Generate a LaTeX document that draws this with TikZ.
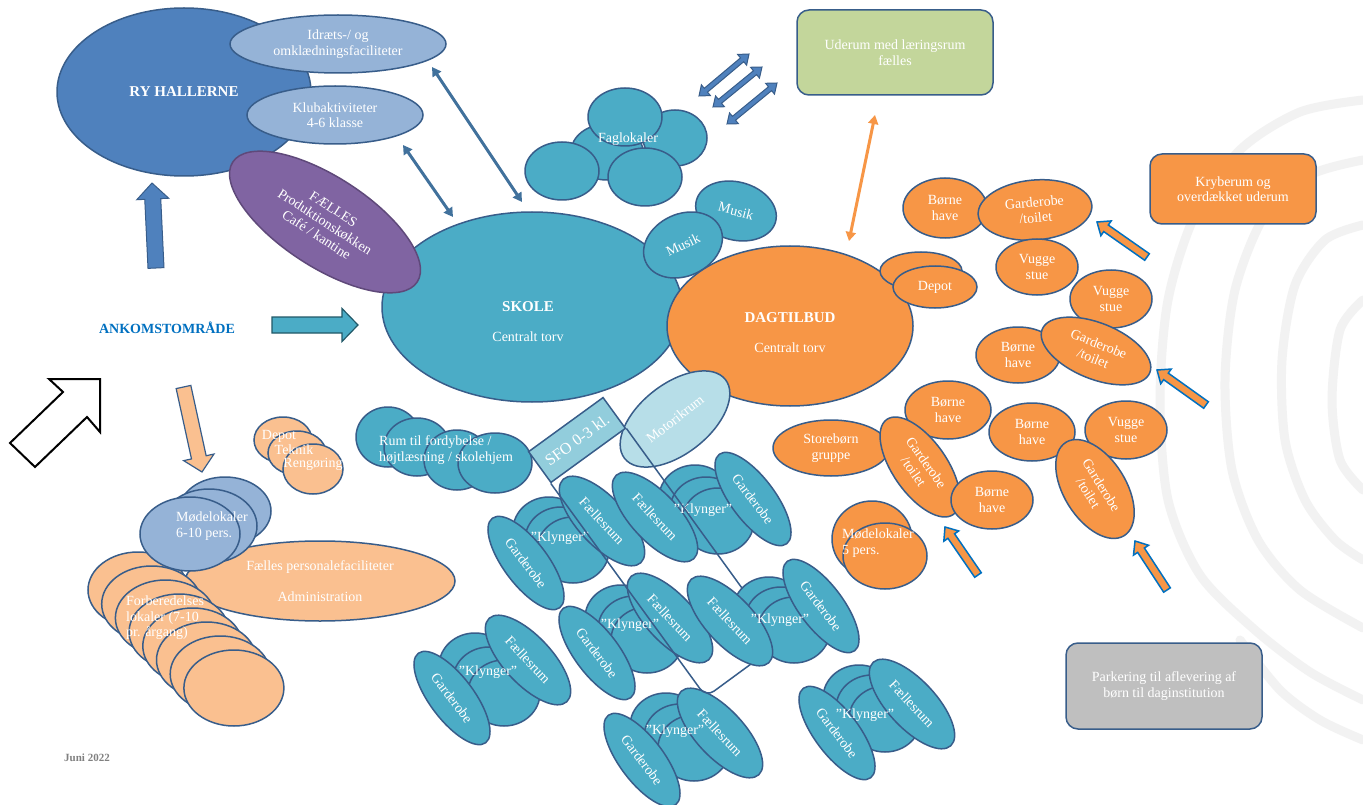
\documentclass[tikz,border=0pt]{standalone}
\usepackage{fontspec}
\setmainfont{Liberation Serif}
\usetikzlibrary{shapes.geometric,calc,arrows.meta}
\definecolor{edge}{HTML}{385D8A}
\definecolor{ryblue}{HTML}{4F81BD}
\definecolor{ltblue}{HTML}{95B3D7}
\definecolor{purp}{HTML}{8064A2}
\definecolor{purpedge}{HTML}{5F497A}
\definecolor{tealc}{HTML}{4BACC6}
\definecolor{orng}{HTML}{F79646}
\definecolor{peach}{HTML}{FAC090}
\definecolor{grn}{HTML}{C3D69B}
\definecolor{sfoc}{HTML}{92CDDC}
\definecolor{motc}{HTML}{B7DEE8}
\definecolor{grayc}{HTML}{BFBFBF}
\definecolor{arrblue}{HTML}{41719C}
\definecolor{ankblue}{HTML}{0070C0}
\definecolor{tealedge}{HTML}{215968}
\definecolor{contour}{HTML}{F2F2F2}
\newcommand\labf{\fontsize{14}{15.5}\selectfont}
\newcommand\ttlf{\fontsize{15}{17}\selectfont\bfseries}
\newcommand\barrow[7]{%
 \coordinate (#1t) at #2; \coordinate (#1p) at #3;
 \coordinate (#1h) at ($(#1p)!#6!(#1t)$);
 \draw[#7] ($(#1t)!#4!90:(#1p)$) -- ($(#1h)!#4!-90:(#1t)$) -- ($(#1h)!#5!-90:(#1t)$) -- (#1p) -- ($(#1h)!#5!90:(#1t)$) -- ($(#1h)!#4!90:(#1t)$) -- ($(#1t)!#4!-90:(#1p)$) -- cycle;}
\newcommand\dbarrow[4]{%
 \coordinate (#1a) at #2; \coordinate (#1b) at #3;
 \coordinate (#1ha) at ($(#1a)!9pt!(#1b)$);
 \coordinate (#1hb) at ($(#1b)!9pt!(#1a)$);
 \draw[#4] (#1a) -- ($(#1ha)!7pt!90:(#1b)$) -- ($(#1ha)!2.5pt!90:(#1b)$) -- ($(#1hb)!2.5pt!-90:(#1a)$) -- ($(#1hb)!7pt!-90:(#1a)$) -- (#1b) -- ($(#1hb)!7pt!90:(#1a)$) -- ($(#1hb)!2.5pt!90:(#1a)$) -- ($(#1ha)!2.5pt!-90:(#1b)$) -- ($(#1ha)!7pt!-90:(#1b)$) -- cycle;}
\tikzset{
 bub/.style={ellipse, draw=edge, line width=1.5pt, inner sep=0pt, text=white, align=center, font=\labf},
 esz/.style n args={3}{minimum width=2*#1, minimum height=2*#2, rotate=#3},
 txt/.style={text=white, align=center, font=\labf, inner sep=0pt},
 rbox/.style={rectangle, rounded corners=12pt, draw=edge, line width=1.5pt, text=white, align=center, font=\labf},
 dlink/.style={line width=3pt, {Triangle[length=9pt,width=10pt]}-{Triangle[length=9pt,width=10pt]}},
 cont/.style={draw=contour, line width=9pt, line cap=round},
}
\begin{document}
\begin{tikzpicture}[x=1pt,y=-1pt]
\fill[white] (0,0) rectangle (1363,805);
\useasboundingbox (0,0) rectangle (1363,805);
% background contours
\draw[cont] plot[smooth] coordinates {(1363,100) (1300,112) (1240,150) (1195,215) (1168,300) (1160,400) (1168,500) (1200,575) (1255,630) (1310,672) (1363,700)};
\draw[cont] plot[smooth] coordinates {(1363,160) (1310,175) (1265,215) (1235,290) (1225,380) (1232,470) (1258,540) (1300,590) (1363,628)};
\draw[cont] plot[smooth] coordinates {(1363,225) (1325,240) (1295,285) (1282,360) (1285,440) (1305,500) (1335,540) (1363,560)};
\draw[cont] plot[smooth] coordinates {(1363,300) (1340,330) (1332,400) (1340,460) (1363,490)};
\draw[cont] plot[smooth] coordinates {(1363,740) (1320,720) (1280,690) (1240,640)};
% RY hallerne
\node[bub, fill=ryblue, esz={127}{84}{0}, font=\ttlf] (ry) at (184,92) {RY HALLERNE};
\node[bub, fill=ltblue, esz={108}{29}{0}] (idr) at (338,44) {Idræts-/ og\\omklædningsfaciliteter};
\node[bub, fill=ltblue, esz={88}{29}{0}] (klub) at (335,115) {Klubaktiviteter\\4-6 klasse};
% Faglokaler
\node[bub, fill=tealc, esz={32}{28}{0}] (fag1) at (675,138) {};
\node[bub, fill=tealc, esz={36}{28}{0}] (fag2) at (607,152) {};
\node[bub, fill=tealc, esz={37}{29}{0}] (fag3) at (625,117) {};
\node[bub, fill=tealc, esz={37}{29}{0}] (fag4) at (645,177) {};
\node[bub, fill=tealc, esz={37}{29}{0}] (fag5) at (562,171) {};
\node[txt] (fagT) at (628,139) {Faglokaler};
% Skole
\node[bub, fill=tealc, esz={150}{95}{0}] (skole) at (532,307) {};
\node[txt, font=\ttlf] (skoleT) at (528,307) {SKOLE};
\node[txt] (skoleS) at (528,337) {Centralt torv};
\node[bub, fill=tealc, esz={41}{29}{-15}] (musik1) at (736,211) {Musik};
\node[bub, fill=tealc, esz={41}{31}{25}] (musik2) at (683,245) {Musik};
\node[bub, fill=purp, draw=purpedge, esz={110}{45}{-33}] (faelles) at (325,222) {FÆLLES\\Produktionskøkken\\Café / kantine};
% Dagtilbud
\node[bub, fill=orng, esz={123}{80}{0}] (dag) at (790,326) {};
\node[txt, font=\ttlf] (dagT) at (790,318) {DAGTILBUD};
\node[txt] (dagS) at (790,348) {Centralt torv};
\node[bub, fill=orng, esz={41}{19}{0}] (depA) at (921,271) {};
\node[bub, fill=orng, esz={42}{21}{0}] (depB) at (935,287) {Depot};
% Rum til fordybelse
\node[bub, fill=tealc, esz={32}{30}{0}] (rum1) at (388,437) {};
\node[bub, fill=tealc, esz={33}{29}{0}] (rum2) at (417,447) {};
\node[bub, fill=tealc, esz={33}{30}{0}] (rum3) at (457,460) {};
\node[bub, fill=tealc, esz={37}{30}{0}] (rum4) at (495,463) {};
\node[txt, anchor=west, align=left] (rumT) at (379,450) {Rum til fordybelse /\\højtlæsning / skolehjem};
% Dagtilbud cluster
\node[bub, fill=orng, esz={42}{30}{0}] (bh1) at (945,208) {Børne\\have};
\node[bub, fill=orng, esz={57}{30}{5}] (gt1) at (1035,210) {Garderobe\\/toilet};
\node[bub, fill=orng, esz={41}{28}{0}] (vs1) at (1037,267) {Vugge\\stue};
\node[bub, fill=orng, esz={41}{29}{0}] (vs2) at (1111,299) {Vugge\\stue};
\node[bub, fill=orng, esz={42}{28}{0}] (bh2) at (1018,355) {Børne\\have};
\node[bub, fill=orng, esz={58}{28}{-22}] (gt2) at (1096,351) {Garderobe\\/toilet};
\node[bub, fill=orng, esz={43}{29}{0}] (bh3) at (948,410) {Børne\\have};
\node[bub, fill=orng, esz={58}{28}{0}] (sb) at (831,448) {Storebørn\\gruppe};
\node[bub, fill=orng, esz={58}{27}{-55}] (gt3) at (920,467) {Garderobe\\/toilet};
\node[bub, fill=orng, esz={41}{29}{0}] (bh4) at (992,500) {Børne\\have};
\node[bub, fill=orng, esz={43}{29}{0}] (bh5) at (1032,432) {Børne\\have};
\node[bub, fill=orng, esz={41}{29}{0}] (vs3) at (1126,430) {Vugge\\stue};
\node[bub, fill=orng, esz={55}{31}{-58}] (gt4) at (1095,489) {Garderobe\\/toilet};
\node[bub, fill=orng, esz={40}{38}{0}] (mo1) at (872,539) {};
\node[bub, fill=orng, esz={42}{33}{0}] (mo2) at (885,556) {};
\node[txt, anchor=west, align=left] (moT) at (842,543) {Mødelokaler\\5 pers.};
% Klynger A
\node[bub, fill=tealc, esz={36}{33}{0}] (a1) at (549,530) {};
\node[bub, fill=tealc, esz={36}{33}{0}] (a2) at (561,540) {};
\node[bub, fill=tealc, esz={36}{33}{0}] (a3) at (573,550) {};
\node[bub, fill=tealc, esz={56}{22}{-53}] (aG) at (526,563) {Garderobe};
\node[bub, fill=tealc, esz={57}{24}{-47}] (aF) at (602,521) {Fællesrum};
\node[txt] (aT) at (560,538) {”Klynger”};
% Klynger B
\node[bub, fill=tealc, esz={36}{33}{0}] (b1) at (695,498) {};
\node[bub, fill=tealc, esz={36}{33}{0}] (b2) at (706,510) {};
\node[bub, fill=tealc, esz={36}{33}{0}] (b3) at (718,521) {};
\node[bub, fill=tealc, esz={57}{24}{-47}] (bF) at (655,517) {Fællesrum};
\node[bub, fill=tealc, esz={56}{22}{-53}] (bG) at (753,499) {Garderobe};
\node[txt] (bT) at (703,510) {”Klynger”};
% Klynger C
\node[bub, fill=tealc, esz={36}{33}{0}] (c1) at (621,618) {};
\node[bub, fill=tealc, esz={36}{33}{0}] (c2) at (634,629) {};
\node[bub, fill=tealc, esz={36}{33}{0}] (c3) at (647,640) {};
\node[bub, fill=tealc, esz={56}{22}{-53}] (cG) at (597,653) {Garderobe};
\node[bub, fill=tealc, esz={57}{24}{-47}] (cF) at (670,618) {Fællesrum};
\node[txt] (cT) at (630,625) {”Klynger”};
% Klynger E
\node[bub, fill=tealc, esz={36}{33}{0}] (e1) at (475,666) {};
\node[bub, fill=tealc, esz={36}{33}{0}] (e2) at (489,680) {};
\node[bub, fill=tealc, esz={36}{33}{0}] (e3) at (504,693) {};
\node[bub, fill=tealc, esz={56}{22}{-53}] (eG) at (452,698) {Garderobe};
\node[bub, fill=tealc, esz={57}{24}{-47}] (eF) at (528,660) {Fællesrum};
\node[txt] (eT) at (488,672) {”Klynger”};
% Klynger F
\node[bub, fill=tealc, esz={36}{33}{0}] (f1) at (666,726) {};
\node[bub, fill=tealc, esz={36}{33}{0}] (f2) at (680,737) {};
\node[bub, fill=tealc, esz={36}{33}{0}] (f3) at (694,748) {};
\node[bub, fill=tealc, esz={56}{22}{-53}] (fG) at (642,760) {Garderobe};
\node[bub, fill=tealc, esz={57}{24}{-47}] (fF) at (720,733) {Fællesrum};
\node[txt] (fT) at (675,731) {”Klynger”};
% Klynger G
\node[bub, fill=tealc, esz={36}{33}{0}] (g1) at (859,698) {};
\node[bub, fill=tealc, esz={36}{33}{0}] (g2) at (872,708) {};
\node[bub, fill=tealc, esz={36}{33}{0}] (g3) at (885,719) {};
\node[bub, fill=tealc, esz={56}{22}{-53}] (gG) at (837,733) {Garderobe};
\node[bub, fill=tealc, esz={57}{24}{-47}] (gF) at (912,704) {Fællesrum};
\node[txt] (gT) at (865,715) {”Klynger”};
% Motorikrum, SFO, corridor
\node[bub, fill=motc, esz={64}{35}{38}] (motor) at (675,419) {Motorikrum};
\node[rectangle, draw=edge, line width=1.5pt, fill=sfoc, minimum width=92, minimum height=38, rotate=36, text=white, font=\fontsize{16}{18}\selectfont, inner sep=0pt] (sfo) at (577,440) {SFO 0-3 kl.};
\coordinate (cw1) at (706,697);
\coordinate (cw2) at (781,642);
\draw[edge, line width=1.5pt, rounded corners=10pt] (sfo.south west) -- (cw1) -- (cw2) -- (sfo.south east);
% Klynger D
\node[bub, fill=tealc, esz={36}{33}{0}] (d1) at (769,610) {};
\node[bub, fill=tealc, esz={36}{33}{0}] (d2) at (781,620) {};
\node[bub, fill=tealc, esz={36}{33}{0}] (d3) at (794,630) {};
\node[bub, fill=tealc, esz={57}{24}{-47}] (dF) at (730,621) {Fællesrum};
\node[bub, fill=tealc, esz={56}{22}{-53}] (dG) at (821,606) {Garderobe};
\node[txt] (dT) at (780,620) {”Klynger”};
% Left bottom
\node[bub, fill=peach, esz={29}{23}{0}] (dtr1) at (283,440) {};
\node[bub, fill=peach, esz={29}{22}{0}] (dtr2) at (297,453) {};
\node[bub, fill=peach, esz={30}{25}{0}] (dtr3) at (313,469) {};
\node[txt] (dtrA) at (279,436) {Depot};
\node[txt] (dtrB) at (294,450) {Teknik};
\node[txt] (dtrC) at (313,464) {Rengøring};
\node[bub, fill=peach, esz={135}{40}{0}] (fp) at (320,581) {Fælles personalefaciliteter\\[15pt]Administration};
\foreach \i in {0,...,7}
  \node[bub, fill=peach, esz={50}{38}{0}] (forb\i) at ({138+13.7*\i},{590+14*\i}) {};
\node[bub, fill=ltblue, esz={46}{34}{0}] (m1) at (225,511) {};
\node[bub, fill=ltblue, esz={48}{37}{0}] (m2) at (209,526) {};
\node[bub, fill=ltblue, esz={50}{37}{0}] (m3) at (190,534) {};
\node[txt, anchor=west, align=left] (forbT) at (126,618) {Forberedelses\\lokaler (7-10\\pr. årgang)};
\node[txt, anchor=west, align=left] (mT) at (176,526) {Mødelokaler\\6-10 pers.};
\node[text=ankblue, font=\fontsize{14}{16}\selectfont\bfseries, inner sep=0pt] (ank) at (167,328) {ANKOMSTOMRÅDE};
\node[text=gray, font=\fontsize{11}{13}\selectfont\bfseries, inner sep=0pt] (juni) at (87,758) {Juni 2022};
% boxes
\node[rbox, fill=grn, minimum width=196, minimum height=85] (uder) at (895,52.5) {Uderum med læringsrum\\fælles};
\node[rbox, fill=orng, minimum width=166, minimum height=70] (kryb) at (1233,189) {Kryberum og\\overdækket uderum};
\node[rbox, fill=grayc, minimum width=196, minimum height=86] (park) at (1164,686) {Parkering til aflevering af\\børn til daginstitution};
% connectors
\coordinate (l1a) at (432,67); \coordinate (l1b) at (522,202);
\coordinate (l2a) at (403,145); \coordinate (l2b) at (453,217);
\coordinate (l3a) at (875,115); \coordinate (l3b) at (849,241);
\draw[dlink, draw=arrblue, fill=arrblue] (l1a) -- (l1b);
\draw[dlink, draw=arrblue, fill=arrblue] (l2a) -- (l2b);
\draw[dlink, draw=orng, fill=orng] (l3a) -- (l3b);
\dbarrow{da}{(699,96)}{(749,54)}{fill=ryblue, draw=edge, line width=1pt}
\dbarrow{db}{(713,107)}{(762,67)}{fill=ryblue, draw=edge, line width=1pt}
\dbarrow{dc}{(727,124)}{(777,83)}{fill=ryblue, draw=edge, line width=1pt}
% block arrows
\barrow{upA}{(156,268)}{(152,183)}{8pt}{16pt}{16pt}{fill=ryblue, draw=edge, line width=1pt}
\barrow{tealA}{(272,325)}{(358,325)}{8pt}{16.5pt}{16pt}{fill=tealc, draw=tealedge, line width=1.2pt}
\barrow{peachA}{(183.5,387)}{(202,472)}{7.5pt}{15.5pt}{15pt}{fill=peach, draw=edge, line width=1.2pt}
\barrow{oa1}{(1147,257)}{(1097,222)}{4pt}{9pt}{11pt}{fill=orng, draw=ankblue, line width=1.5pt}
\barrow{oa2}{(1206,405)}{(1157,370)}{4pt}{9pt}{11pt}{fill=orng, draw=ankblue, line width=1.5pt}
\barrow{oa3}{(978,575)}{(945,527)}{4pt}{9pt}{11pt}{fill=orng, draw=ankblue, line width=1.5pt}
\barrow{oa4}{(1167,590)}{(1135,541)}{4pt}{9pt}{11pt}{fill=orng, draw=ankblue, line width=1.5pt}
\draw[fill=white, draw=black, line width=2pt] (49,379) -- (100,379) -- (100,432) -- (87,417) -- (35,467) -- (10,443) -- (63,392) -- cycle;
\end{tikzpicture}
\end{document}
